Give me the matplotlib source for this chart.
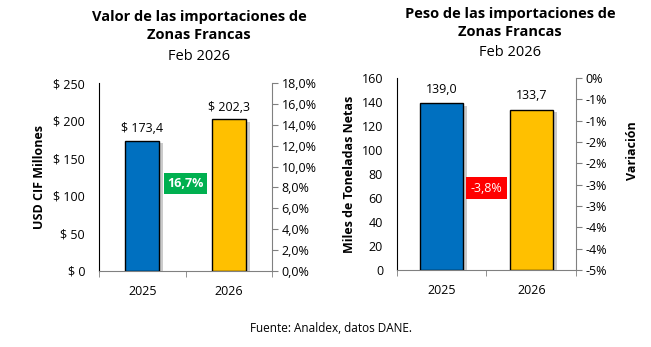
import matplotlib.pyplot as plt
import matplotlib.patheffects as pe
from matplotlib.ticker import FixedLocator

plt.rcParams['font.family'] = ['Open Sans', 'DejaVu Sans']

years = ['2025', '2026']
valor = [173.4, 202.3]
valor_labels = ['$ 173,4', '$ 202,3']
valor_var = '16,7%'
peso = [139.0, 133.7]
peso_labels = ['139,0', '133,7']
peso_var = '-3,8%'

valor_yticks = [0, 50, 100, 150, 200, 250]
valor_pct_ticks = [0, 2, 4, 6, 8, 10, 12, 14, 16, 18]
peso_yticks = [0, 20, 40, 60, 80, 100, 120, 140, 160]
peso_pct_ticks = [0, -0.5, -1, -1.5, -2, -2.5, -3, -3.5, -4, -4.5]
peso_pct_labels = ['0%', '-1%', '-1%', '-2%', '-2%', '-3%', '-3%', '-4%', '-4%', '-5%']

colors = ['#0070C0', '#FFC000']
W, H = 651, 347
grey = '#808080'

fig = plt.figure(figsize=(W / 100, H / 100), dpi=100)


def px_axes(x0, y0, x1, y1):
    return fig.add_axes([x0 / W, 1 - y1 / H, (x1 - x0) / W, (y1 - y0) / H])


def style(ax, ax2):
    ax.set_xlim(-0.5, 1.5)
    for s in ['top', 'right']:
        ax.spines[s].set_visible(False)
    ax.spines['left'].set_color('black')
    ax.spines['bottom'].set_color(grey)
    ax2.spines['top'].set_visible(False)
    ax2.spines['left'].set_visible(False)
    ax2.spines['bottom'].set_visible(False)
    ax2.spines['right'].set_color(grey)
    ax.tick_params(axis='y', length=0, labelsize=9, pad=10)
    ax2.tick_params(axis='y', length=4, color=grey, labelsize=9, pad=3)
    ax.set_xticks([0, 1])
    ax.set_xticklabels(years, fontsize=9)
    ax.xaxis.set_minor_locator(FixedLocator([-0.5, 0.5, 1.5]))
    ax.tick_params(axis='x', which='major', length=0, pad=10)
    ax.tick_params(axis='x', which='minor', length=4, color=grey)


def bars(ax, vals, width):
    b = ax.bar([0, 1], vals, width=width, color=colors, edgecolor='black',
               linewidth=1, zorder=3)
    for r in b:
        r.set_path_effects([pe.SimplePatchShadow(offset=(3, -2), shadow_rgbFace='#999999', alpha=0.5),
                            pe.Normal()])
    return b


# --- left chart: valor ---
ax = px_axes(99, 83, 272, 271)
ax2 = ax.twinx()
bars(ax, valor, 0.39)
ax.set_ylim(0, 250)
ax.set_yticks(valor_yticks)
ax.set_yticklabels([f'$ {v}' for v in valor_yticks])
ax2.set_ylim(0, 18)
ax2.set_yticks(valor_pct_ticks)
ax2.set_yticklabels([f'{v:.1f}%'.replace('.', ',') for v in valor_pct_ticks])
style(ax, ax2)
for i, (v, t) in enumerate(zip(valor, valor_labels)):
    ax.text(i, v + 7, t, ha='center', va='bottom', fontsize=9)
ax.set_ylabel('USD CIF Millones', fontsize=9, fontweight='bold', labelpad=5)
ax2.text(0.5, 8.4, valor_var, ha='center', va='center', color='white',
         fontsize=9, fontweight='bold',
         bbox=dict(boxstyle='square,pad=0.3', fc='#00B050', ec='none'))

# --- right chart: peso ---
bx = px_axes(397, 78, 576, 270)
bx2 = bx.twinx()
bars(bx, peso, 0.48)
bx.set_ylim(0, 160)
bx.set_yticks(peso_yticks)
bx2.set_ylim(-4.5, 0)
bx2.set_yticks(peso_pct_ticks)
bx2.set_yticklabels(peso_pct_labels)
style(bx, bx2)
for i, (v, t) in enumerate(zip(peso, peso_labels)):
    bx.text(i, v + 6, t, ha='center', va='bottom', fontsize=9)
bx.set_ylabel('Miles de Toneladas Netas', fontsize=9, fontweight='bold', labelpad=4)
bx2.set_ylabel('Variación', fontsize=9, fontweight='bold')
bx2.yaxis.set_label_coords(1.28, 0.62)
bx2.text(0.5, -2.58, peso_var, ha='center', va='center', color='white',
         fontsize=9, bbox=dict(boxstyle='square,pad=0.35', fc='#FF0000', ec='none'))

# titles
fig.text(199 / W, 1 - 26 / H, 'Valor de las importaciones de\nZonas Francas', ha='center',
         va='center', fontsize=10.5, fontweight='bold', linespacing=1.4)
fig.text(199 / W, 1 - 56 / H, 'Feb 2026', ha='center', va='center', fontsize=10.5)
fig.text(510 / W, 1 - 23 / H, 'Peso de las importaciones de\nZonas Francas', ha='center',
         va='center', fontsize=10.5, fontweight='bold', linespacing=1.4)
fig.text(510 / W, 1 - 52 / H, 'Feb 2026', ha='center', va='center', fontsize=10.5)

fig.text(331 / W, 1 - 328 / H, 'Fuente: Analdex, datos DANE.', ha='center', va='center', fontsize=8.5)

fig.savefig('out.png', dpi=100)
